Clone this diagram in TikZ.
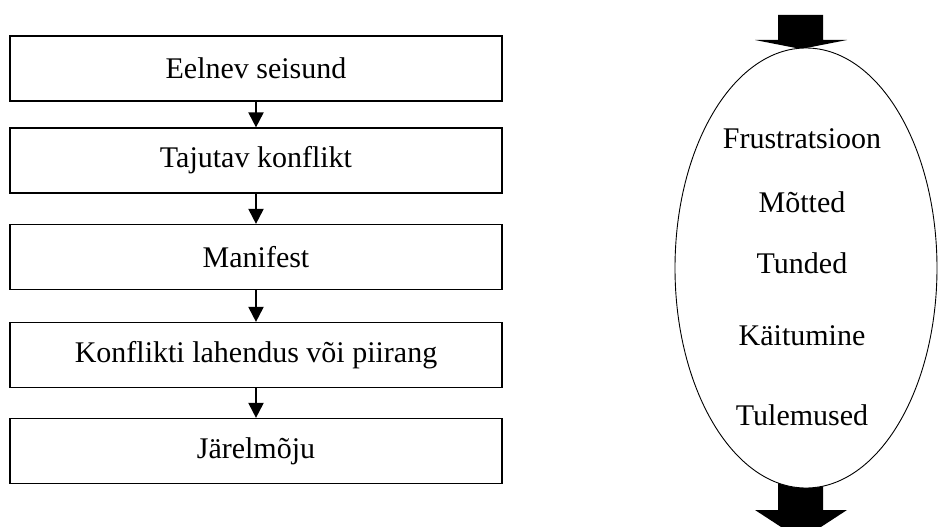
\documentclass[tikz,border=0pt]{standalone}
\usepackage{fontspec}
\setmainfont{Liberation Serif}
\usepackage{tikz}
\usetikzlibrary{arrows.meta, positioning, shapes.geometric, backgrounds}
\tikzset{
  stagebox/.style={draw=black, line width=1.2pt, fill=white, minimum width=492pt,
                   minimum height=65pt, inner sep=0pt},
  cyclebox/.style={draw=black, line width=0.9pt, fill=white, ellipse,
                   minimum width=262pt, minimum height=440pt, inner sep=0pt},
  arr/.style={-{Triangle[width=15pt,length=15pt]}, line width=2pt, black},
  fatarr/.style={fill=black},
}

\begin{document}
\begin{tikzpicture}[x=1pt, y=-1pt, every node/.style={font=\fontsize{30}{36}\selectfont}]
    \useasboundingbox (0,0) rectangle (940,527);
    % left: stages of the conflict
    \node[stagebox] (s1) at (256, 68.5) {Eelnev seisund};
    \node[stagebox] (s2) at (256, 160.5) {Tajutav konflikt};
    \node[stagebox] (s3) at (256, 257) {Manifest};
    \node[stagebox] (s4) at (256, 355) {Konflikti lahendus või piirang};
    \node[stagebox] (s5) at (256, 451) {Järelmõju};

    \draw[arr] (s1.south) -- (s2.north);
    \draw[arr] (s2.south) -- (s3.north);
    \draw[arr] (s3.south) -- (s4.north);
    \draw[arr] (s4.south) -- (s5.north);

    % right: the cycle
    \fill[fatarr] (778,15) -- (823,15) -- (823,40) -- (847,40) -- (801,49)
      -- (755,40) -- (778,40) -- cycle;
    \fill[fatarr] (778,480) -- (823,480) -- (823,510) -- (847,510) -- (801,540)
      -- (755,510) -- (778,510) -- cycle;
    \node[cyclebox] (cyc) at (806, 268) {};

    \node[anchor=base] (f1) at (802, 148) {Frustratsioon};
    \node[anchor=base] (f2) at (802, 212) {Mõtted};
    \node[anchor=base] (f3) at (802, 273) {Tunded};
    \node[anchor=base] (f4) at (802, 345) {Käitumine};
    \node[anchor=base] (f5) at (802, 425) {Tulemused};
\end{tikzpicture}
\end{document}
